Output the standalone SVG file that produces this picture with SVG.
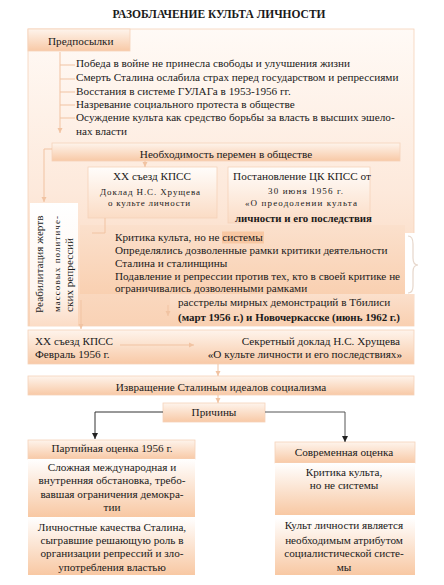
<svg xmlns="http://www.w3.org/2000/svg" width="444" height="585" viewBox="0 0 444 585" font-family="'Liberation Serif', 'DejaVu Serif', serif">
<style>
text{font-family:'Liberation Serif','DejaVu Serif',serif;font-size:11.2px;fill:#1a1a1a}
.t{font-size:11.5px;font-weight:bold}
.c{text-anchor:middle}
.e{text-anchor:end}
.sp{font-size:9px}
.bx{stroke:#f4d2b9;stroke-width:0.8}
.fc{fill:none;stroke:#f1c3a2;stroke-width:1}
.bk{fill:none;stroke:#333;stroke-width:1}
</style>
<defs>
<linearGradient id="gHead" x1="0" y1="0" x2="0" y2="1"><stop offset="0" stop-color="#fef4ec"/><stop offset="1" stop-color="#f8c9a6"/></linearGradient>
<linearGradient id="gBox" x1="0" y1="0" x2="0" y2="1"><stop offset="0" stop-color="#ffffff"/><stop offset="1" stop-color="#f8c8a3"/></linearGradient>
<linearGradient id="gLite" x1="0" y1="0" x2="0" y2="1"><stop offset="0" stop-color="#fffdfb"/><stop offset="1" stop-color="#fbdcc5"/></linearGradient>
<linearGradient id="gCont" x1="0" y1="0" x2="0" y2="1"><stop offset="0" stop-color="#fffaf6"/><stop offset="0.55" stop-color="#fde9db"/><stop offset="1" stop-color="#f9d2b5"/></linearGradient>
<linearGradient id="gCrit" x1="0" y1="0" x2="0" y2="1"><stop offset="0" stop-color="#fbe0cc"/><stop offset="1" stop-color="#f9d0b1"/></linearGradient>
<linearGradient id="gRehab" x1="0" y1="0" x2="0" y2="1"><stop offset="0" stop-color="#ffffff"/><stop offset="0.7" stop-color="#fef6f0"/><stop offset="1" stop-color="#fbdcc6"/></linearGradient>
<marker id="af" markerWidth="6" markerHeight="6" refX="5" refY="3" orient="auto" markerUnits="userSpaceOnUse"><path d="M0,0.5 L5,3 L0,5.5 Z" fill="#f1c3a2"/></marker>
<marker id="ab" markerWidth="7" markerHeight="7" refX="6" refY="3.5" orient="auto" markerUnits="userSpaceOnUse"><path d="M0,0.5 L6,3.5 L0,6.5 Z" fill="#222"/></marker>
</defs>
<rect width="444" height="585" fill="#ffffff"/>
<text class="t c" x="219" y="18">РАЗОБЛАЧЕНИЕ КУЛЬТА  ЛИЧНОСТИ</text>

<g id="container">
<rect class="bx" x="28" y="29" width="386" height="297" fill="url(#gCont)"/>
<rect x="405" y="233" width="10" height="61" fill="#ffffff"/>
</g>

<g id="predposylki">
<rect class="bx" x="28" y="29" width="102" height="22" fill="url(#gHead)"/>
<text x="48" y="45">Предпосылки</text>
<text x="76" y="67">Победа в войне не принесла свободы и улучшения жизни</text>
<text x="76" y="81">Смерть Сталина ослабила страх перед государством и репрессиями</text>
<text x="76" y="94.5">Восстания в системе ГУЛАГа  в 1953-1956 гг.</text>
<text x="76" y="107.5">Назревание социального протеста в обществе</text>
<text x="76" y="121">Осуждение культа как средство борьбы за власть в высших эшело-</text>
<text x="76" y="135">нах власти</text>
</g>

<g id="neobhodimost">
<rect class="bx" x="52" y="143" width="348" height="18" fill="url(#gHead)"/>
<text class="c" x="226" y="157.5">Необходимость перемен в обществе</text>
</g>

<g id="xx-sezd">
<rect class="bx" x="88" y="167" width="129" height="51" fill="url(#gLite)"/>
<text class="c" x="152" y="179.5">XX съезд КПСС</text>
<text class="sp" x="100" y="194.5" textLength="100" lengthAdjust="spacing">Доклад Н.С. Хрущева</text>
<text class="sp" x="108" y="206" textLength="82" lengthAdjust="spacing">о культе личности</text>
</g>

<g id="postanovlenie">
<rect class="bx" x="228" y="167" width="142" height="56" fill="url(#gLite)"/>
<text class="c" x="302" y="180">Постановление ЦК КПСС от</text>
<text class="sp" x="268" y="193.5" textLength="75" lengthAdjust="spacing">30 июня 1956 г.</text>
<text class="sp" x="245" y="206" textLength="112" lengthAdjust="spacing">«О преодолении культа</text>
<text x="235" y="221.5" style="font-weight:bold" textLength="137" lengthAdjust="spacingAndGlyphs">личности и его последствия</text>
</g>

<g id="rehab">
<rect x="30" y="203" width="48" height="123" fill="url(#gRehab)"/>
<text transform="translate(42.5,313) rotate(-90)">Реабилитация жертв</text>
<text class="sp" transform="translate(60,312) rotate(-90)" textLength="96" lengthAdjust="spacing">массовых политиче-</text>
<text transform="translate(72.5,312) rotate(-90)">ских репрессий</text>
</g>

<g id="kritika">
<rect x="80" y="225" width="325" height="69" fill="url(#gCrit)"/>
<rect x="222" y="231.5" width="42" height="12" fill="#f8c7a2"/>
<text x="115" y="241">Критика культа, но не системы</text>
<text x="115" y="254">Определялись дозволенные рамки критики деятельности</text>
<text x="115" y="266.5">Сталина и сталинщины</text>
<text x="115" y="279.5">Подавление и репрессии против тех, кто в своей критике не</text>
<text x="115" y="292">ограничивались дозволенными рамками</text>
<path d="M408,236 Q413,236 413,244 L413,258 Q413,265 418,265 Q413,265 413,272 L413,286 Q413,293 408,293" fill="none" stroke="#e6d6ca" stroke-width="1.2"/>
</g>

<g id="rasstrely">
<rect x="170" y="294" width="244" height="32" fill="url(#gCrit)"/>
<text x="178" y="305.5">расстрелы мирных демонстраций в Тбилиси</text>
<text x="178" y="320.5" style="font-weight:bold" textLength="222" lengthAdjust="spacingAndGlyphs">(март 1956 г.) и Новочеркасске (июнь 1962 г.)</text>
</g>

<g id="xx-fevral">
<rect class="bx" x="28" y="330" width="386" height="34" fill="url(#gHead)"/>
<text x="35" y="344.5">XX съезд КПСС</text>
<text x="35" y="358">Февраль 1956 г.</text>
<text class="e" x="400" y="344.5">Секретный доклад Н.С. Хрущева</text>
<text class="e" x="402" y="358">«О культе личности и его последствиях»</text>
</g>

<g id="izvrashchenie">
<rect class="bx" x="28" y="376" width="386" height="19" fill="url(#gHead)"/>
<text class="c" x="221" y="391">Извращение Сталиным  идеалов социализма</text>
</g>

<g id="prichiny">
<rect class="bx" x="163" y="403" width="102" height="19" fill="url(#gHead)"/>
<text class="c" x="214" y="416">Причины</text>
</g>

<g id="partiynaya">
<rect class="bx" x="28" y="440" width="167" height="19" fill="url(#gHead)"/>
<text class="c" x="112" y="451.5">Партийная оценка 1956 г.</text>
<rect x="28" y="459" width="167" height="58" fill="url(#gBox)"/>
<text class="c" x="112" y="470.5">Сложная международная и</text>
<text class="c" x="112" y="484">внутренняя обстановка, требо-</text>
<text class="c" x="112" y="498">вавшая ограничения демокра-</text>
<text class="c" x="112" y="511">тии</text>
<rect x="28" y="517" width="167" height="58" fill="url(#gBox)"/>
<text class="c" x="112" y="530.5">Личностные качества Сталина,</text>
<text class="c" x="112" y="544">сыгравшие решающую роль в</text>
<text class="c" x="112" y="557">организации репрессий и зло-</text>
<text class="c" x="112" y="570.5">употребления властью</text>
</g>

<g id="sovremennaya">
<rect class="bx" x="275" y="442" width="140" height="21" fill="url(#gHead)"/>
<text class="c" x="344" y="456">Современная оценка</text>
<rect x="275" y="463" width="140" height="52" fill="url(#gBox)"/>
<text class="c" x="344" y="475.5">Критика культа,</text>
<text class="c" x="344" y="488.5">но не системы</text>
<rect x="275" y="518" width="140" height="57" fill="url(#gBox)"/>
<text class="c" x="344" y="528.5">Культ личности является</text>
<text class="c" x="344" y="543.5">необходимым атрибутом</text>
<text class="c" x="344" y="556.5">социалистической систе-</text>
<text class="c" x="344" y="570.5">мы</text>
</g>

<g id="connectors">
<path class="fc" d="M60,52 V133" marker-end="url(#af)"/>
<path class="fc" d="M60,65 H75 M60,79 H75 M60,92 H75 M60,105 H75 M60,118 H75"/>
<path class="fc" d="M52,149 H44 V202" marker-end="url(#af)"/>
<path class="fc" d="M145,161 V167" marker-end="url(#af)"/>
<path class="fc" d="M105,218 V233 H92"/>
<path class="fc" d="M81,300 V329" marker-end="url(#af)"/>
<path class="fc" d="M168,305 V316" marker-end="url(#af)"/>
<path class="fc" d="M120,345 H194" marker-end="url(#af)"/>
<path class="fc" d="M218,364 V376" marker-end="url(#af)"/>
<path class="fc" d="M218,395 V403" marker-end="url(#af)"/>
<path class="bk" d="M163,412 H95 V439" marker-end="url(#ab)"/>
<path class="bk" d="M265,412 H345 V442" marker-end="url(#ab)" style="stroke:#555"/>
</g>
</svg>
